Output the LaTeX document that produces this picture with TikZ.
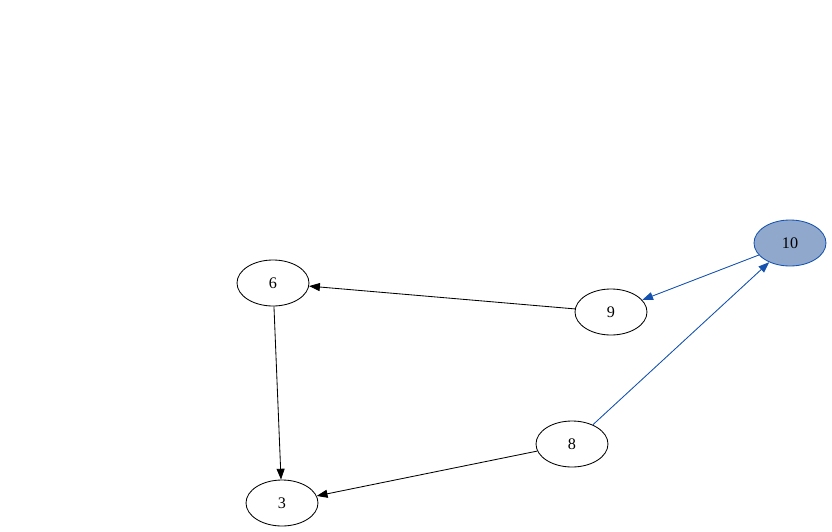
\documentclass[tikz,border=0pt]{standalone}
\usepackage{fontspec}
\setmainfont{Liberation Serif}
\usepackage{xcolor}
\usetikzlibrary{shapes.geometric,arrows.meta}
\definecolor{edgeblue}{HTML}{1552B0}
\definecolor{fillblue}{HTML}{8FA8CC}

\begin{document}
\begin{tikzpicture}[vert/.style={draw,semithick,ellipse,minimum width=1.8cm,minimum height=1.15cm,inner sep=0pt,font=\fontsize{11.5}{13}\selectfont},arrow/.style={-{Triangle[length=2.7mm,width=2mm]},semithick},hot/.style={vert,draw=edgeblue,fill=fillblue},bluearrow/.style={arrow,draw=edgeblue,fill=edgeblue}]
\useasboundingbox (0,0) rectangle (20.8,-13.3);
\node[vert] (n6) at (6.825,-7.075) {6};
\node[vert] (n9) at (15.275,-7.8) {9};
\node[hot] (n10) at (19.75,-6.075) {10};
\node[vert] (n8) at (14.3,-11.1) {8};
\node[vert] (n3) at (7.05,-12.575) {3};
\draw[arrow] (n9)--(n6); \draw[arrow] (n6)--(n3); \draw[arrow] (n8)--(n3);
\draw[bluearrow] (n8)--(n10); \draw[bluearrow] (n10)--(n9);
\end{tikzpicture}
\end{document}
